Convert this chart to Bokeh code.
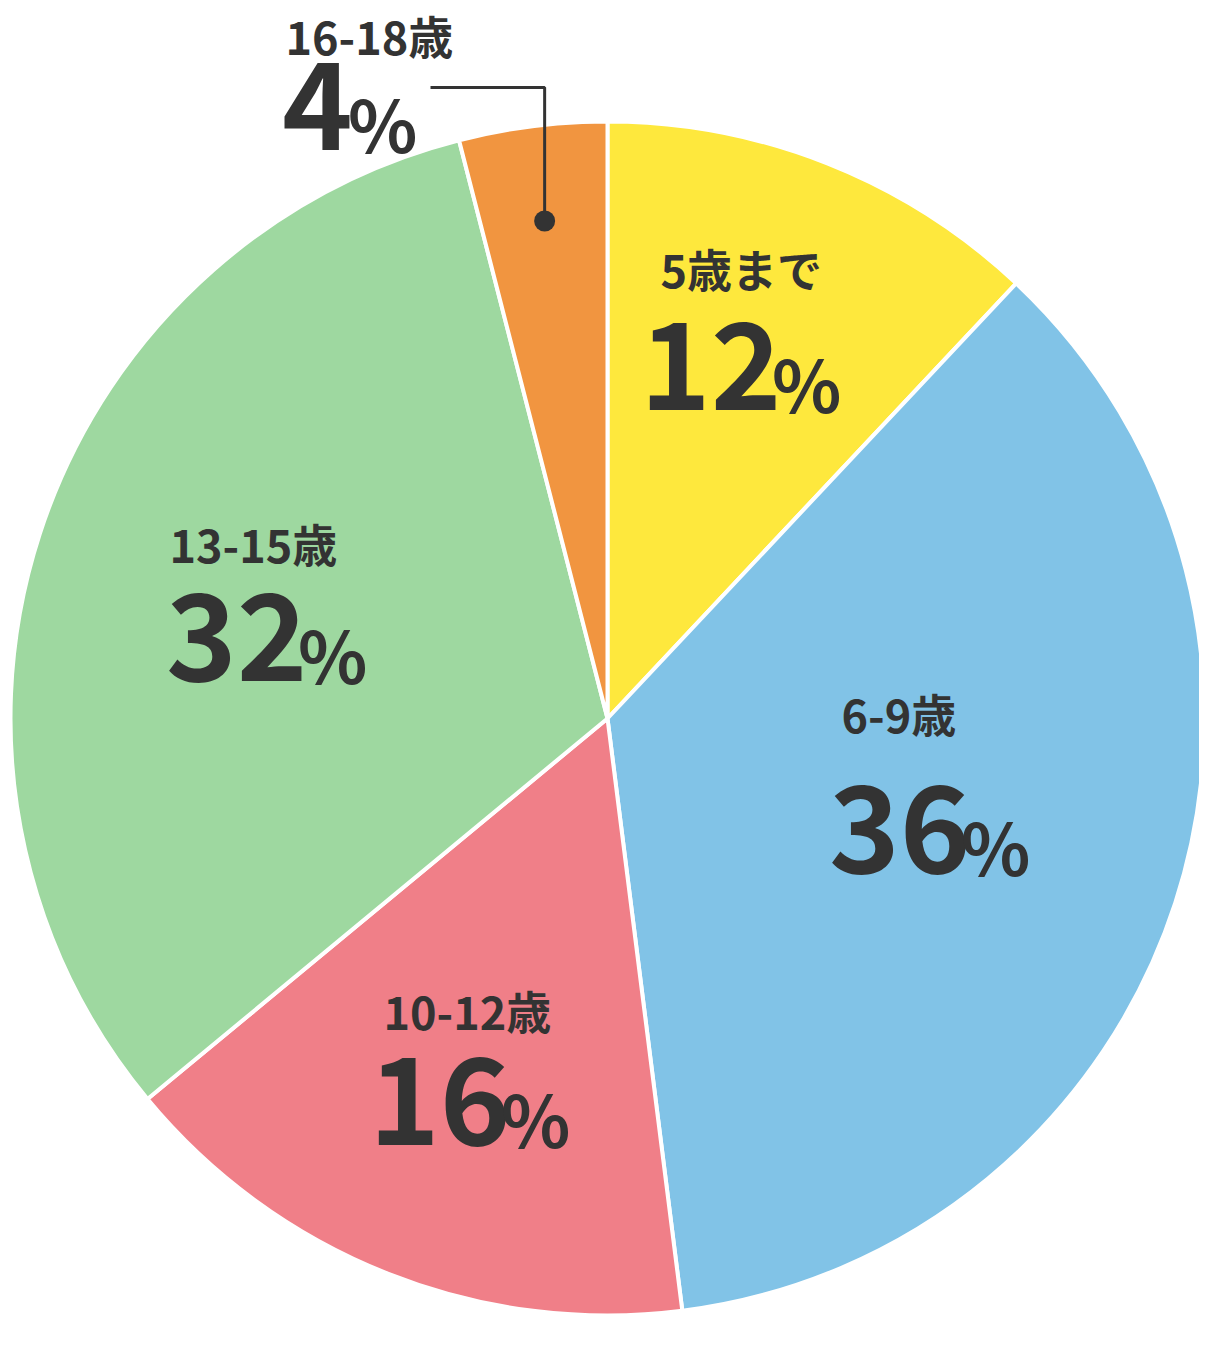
import math
from bokeh.plotting import figure
from bokeh.models import Range1d, ColumnDataSource
from bokeh.core.properties import value
from bokeh.embed import file_html
from bokeh.resources import INLINE

# ---- data ----
labels = ["5歳まで", "6-9歳", "10-12歳", "13-15歳", "16-18歳"]
shares = [12, 36, 16, 32, 4]
colors = ["#FEE83D", "#81C3E7", "#F07F88", "#9ED8A0", "#F19540"]

# ---- layout (screen pixels) ----
W, H = 1199, 1334
CX, CY, R = 607, 718, 597
label_xy = [(660, 290), (841, 735), (383, 1032), (169, 565), (285, 57)]
num_center = [(740, 412), (929, 875), (469, 1147), (266, 683), (349, 152)]
TXT = "#333333"
FONT = value("Noto Sans CJK JP")
LAB_SIZE, NUM_SIZE, PCT_SIZE = 45, 120, 72
ADV = 0.55 * NUM_SIZE
PCT_W = 0.85 * PCT_SIZE


def base_shift(size):
    return 7 + 0.337 * size


p = figure(width=W, height=H, output_backend="svg", toolbar_location=None,
           x_range=Range1d(0, W), y_range=Range1d(-H, 0),
           min_border=0, outline_line_color=None)
p.axis.visible = False
p.grid.visible = False

total = sum(shares)
starts, ends, cum = [], [], 0.0
for s in shares:
    a0 = math.pi / 2 - 2 * math.pi * cum / total
    cum += s
    a1 = math.pi / 2 - 2 * math.pi * cum / total
    starts.append(a1)
    ends.append(a0)

src = ColumnDataSource(dict(start=starts, end=ends, color=colors))
p.wedge(x=CX, y=-CY, radius=R, start_angle="start", end_angle="end",
        fill_color="color", line_color="white", line_width=4, source=src)

# leader line for the smallest slice
last_mid = (starts[-1] + ends[-1]) / 2
dot_x = CX + 0.84 * R * math.cos(last_mid)
dot_y = -CY + 0.84 * R * math.sin(last_mid)
p.line(x=[430, dot_x, dot_x], y=[-87, -87, dot_y], line_color=TXT, line_width=3)
p.scatter(x=[dot_x], y=[dot_y], size=21, fill_color=TXT, line_color=None)

lab_src = ColumnDataSource(dict(x=[a for a, b in label_xy],
                                y=[-(b - base_shift(LAB_SIZE)) for a, b in label_xy], t=labels))
p.text(x="x", y="y", text="t", source=lab_src, text_font=FONT,
       text_font_style="bold", text_font_size=f"{LAB_SIZE}px", text_color=TXT,
       text_align="left", text_baseline="alphabetic")

nums = [str(s) for s in shares]
num_x, pct_x = [], []
for t, (cx, cy) in zip(nums, num_center):
    block = len(t) * ADV + PCT_W
    x0 = cx - block / 2
    num_x.append(x0 - 4)
    pct_x.append(x0 + len(t) * ADV - 4)

num_src = ColumnDataSource(dict(x=num_x, y=[-(b - base_shift(NUM_SIZE)) for a, b in num_center], t=nums))
p.text(x="x", y="y", text="t", source=num_src, text_font=FONT,
       text_font_style="bold", text_font_size=f"{NUM_SIZE}px", text_color=TXT,
       text_align="left", text_baseline="alphabetic")

pct_src = ColumnDataSource(dict(x=pct_x, y=[-(b - base_shift(PCT_SIZE)) for a, b in num_center],
                                t=["%"] * len(shares)))
p.text(x="x", y="y", text="t", source=pct_src, text_font=FONT,
       text_font_style="bold", text_font_size=f"{PCT_SIZE}px", text_color=TXT,
       text_align="left", text_baseline="alphabetic")

open("out.html", "w").write(file_html(p, INLINE))
